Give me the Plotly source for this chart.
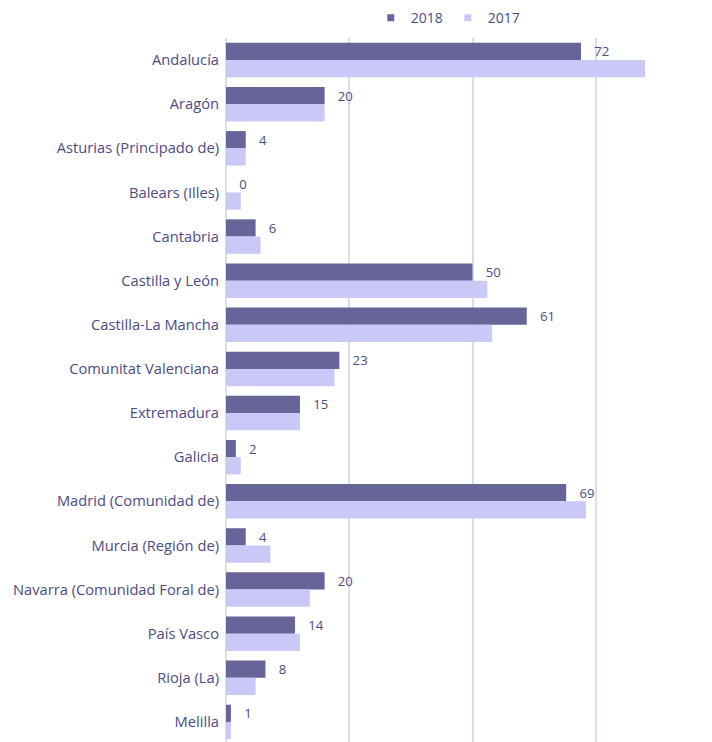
import plotly.graph_objects as go

categories = ["Andalucía", "Aragón", "Asturias (Principado de)", "Balears (Illes)", "Cantabria",
              "Castilla y León", "Castilla-La Mancha", "Comunitat Valenciana", "Extremadura",
              "Galicia", "Madrid (Comunidad de)", "Murcia (Región de)",
              "Navarra (Comunidad Foral de)", "País Vasco", "Rioja (La)", "Melilla"]
values_2018 = [72, 20, 4, 0, 6, 50, 61, 23, 15, 2, 69, 4, 20, 14, 8, 1]
values_2017 = [85, 20, 4, 3, 7, 53, 54, 22, 15, 3, 73, 9, 17, 15, 6, 1]
series_names = ["2018", "2017"]

dark = "#67649a"
light = "#cac8f7"
txt = "#4d4b86"
grid = "#dcdcf0"
fam = "Open Sans"

fig = go.Figure()
fig.add_trace(go.Bar(
    y=categories, x=values_2018, orientation="h", name=series_names[0],
    marker=dict(color=dark, line=dict(width=0)), showlegend=False,
    text=[f"   {v}" for v in values_2018], textposition="outside",
    textfont=dict(color=txt, size=14.5, family=fam), cliponaxis=False,
))
fig.add_trace(go.Bar(
    y=categories, x=values_2017, orientation="h", name=series_names[1],
    marker=dict(color=light, line=dict(width=0)), showlegend=False,
))
# legend entries with small square symbols
for nm, col in zip(series_names, [dark, light]):
    fig.add_trace(go.Scatter(
        x=[None], y=[None], mode="markers", name=nm,
        marker=dict(symbol="square", size=7, color=col),
    ))

fig.update_layout(
    width=712, height=742,
    margin=dict(l=218, r=0, t=30, b=6, autoexpand=False),
    barmode="group", bargap=0.22, bargroupgap=0,
    plot_bgcolor="white", paper_bgcolor="white",
    font=dict(family=fam, size=14, color=txt),
    legend=dict(orientation="h", x=0.45, xanchor="center", y=1.028, yanchor="middle",
                font=dict(size=14, color=txt), itemwidth=30, traceorder="normal",
                tracegroupgap=0),
    xaxis=dict(range=[0, 100.2], dtick=25, showgrid=True, gridcolor=grid, gridwidth=1.5,
               showticklabels=False, zeroline=True, zerolinecolor=grid, zerolinewidth=1.5,
               fixedrange=True),
    yaxis=dict(autorange="reversed", ticks="", ticklabelstandoff=6, showline=False,
               automargin=False, tickfont=dict(size=14.7, color=txt)),
    uniformtext=dict(minsize=8, mode="show"),
)
fig.write_html("out.html")
